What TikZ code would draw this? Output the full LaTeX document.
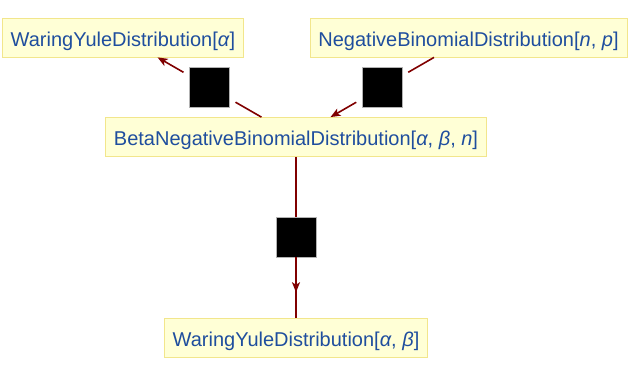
\documentclass[tikz,border=0pt]{standalone}
\usepackage{fontspec}
\setmainfont{Liberation Sans}
\usetikzlibrary{arrows.meta,calc,decorations.markings}
\definecolor{labelBlue}{HTML}{1F4E9E}
\definecolor{boxFill}{HTML}{FFFFD6}
\definecolor{boxFrame}{HTML}{F2E68C}
\definecolor{edgeRed}{HTML}{800000}

\begin{document}
\begin{tikzpicture}[x=1pt, y=-1pt, >={Stealth[length=10pt,width=8pt,inset=2.5pt]},
      dist/.style={draw=boxFrame, fill=boxFill, line width=0.8pt, text=labelBlue, font=\fontsize{20}{24}\selectfont,
        inner xsep=8.5pt, inner ysep=10pt, text height=18pt, text depth=1pt},
      tag/.style={draw=gray!60, fill=black, line width=0.8pt, minimum size=40pt, inner sep=0pt, outer xsep=6pt, outer ysep=0pt},
      link/.style={draw=edgeRed, line width=1.6pt}]
    \useasboundingbox (0,0) rectangle (630,378);
    % ---- distributions
    \node[dist] (wy1) at (123,37.5) {WaringYuleDistribution[\textit{α}]};
    \node[dist] (nb) at (468.5,37.5) {NegativeBinomialDistribution[\textit{n}, \textit{p}]};
    \node[dist] (bnb) at (296,137) {BetaNegativeBinomialDistribution[\textit{α}, \textit{β}, \textit{n}]};
    \node[dist] (wy2) at (296,337.5) {WaringYuleDistribution[\textit{α}, \textit{β}]};
    % ---- edge tags, halfway
    \node[tag] (g1) at ($(bnb)!0.5!(wy1)$) {};
    \node[tag] (g2) at ($(nb)!0.5!(bnb)$) {};
    \node[tag] (g3) at ($(bnb)!0.5!(wy2)$) {};
    % ---- connectors
    \draw[link] (bnb) -- (g1);
    \draw[link, ->] (g1) -- (wy1);
    \draw[link] (nb) -- (g2);
    \draw[link, ->] (g2) -- (bnb);
    \draw[link] (bnb) -- (g3);
    \draw[link, postaction={decorate}, decoration={markings, mark=at position 0.58 with {\arrow{>}}}] (g3) -- (wy2);
  \end{tikzpicture}
\end{document}
